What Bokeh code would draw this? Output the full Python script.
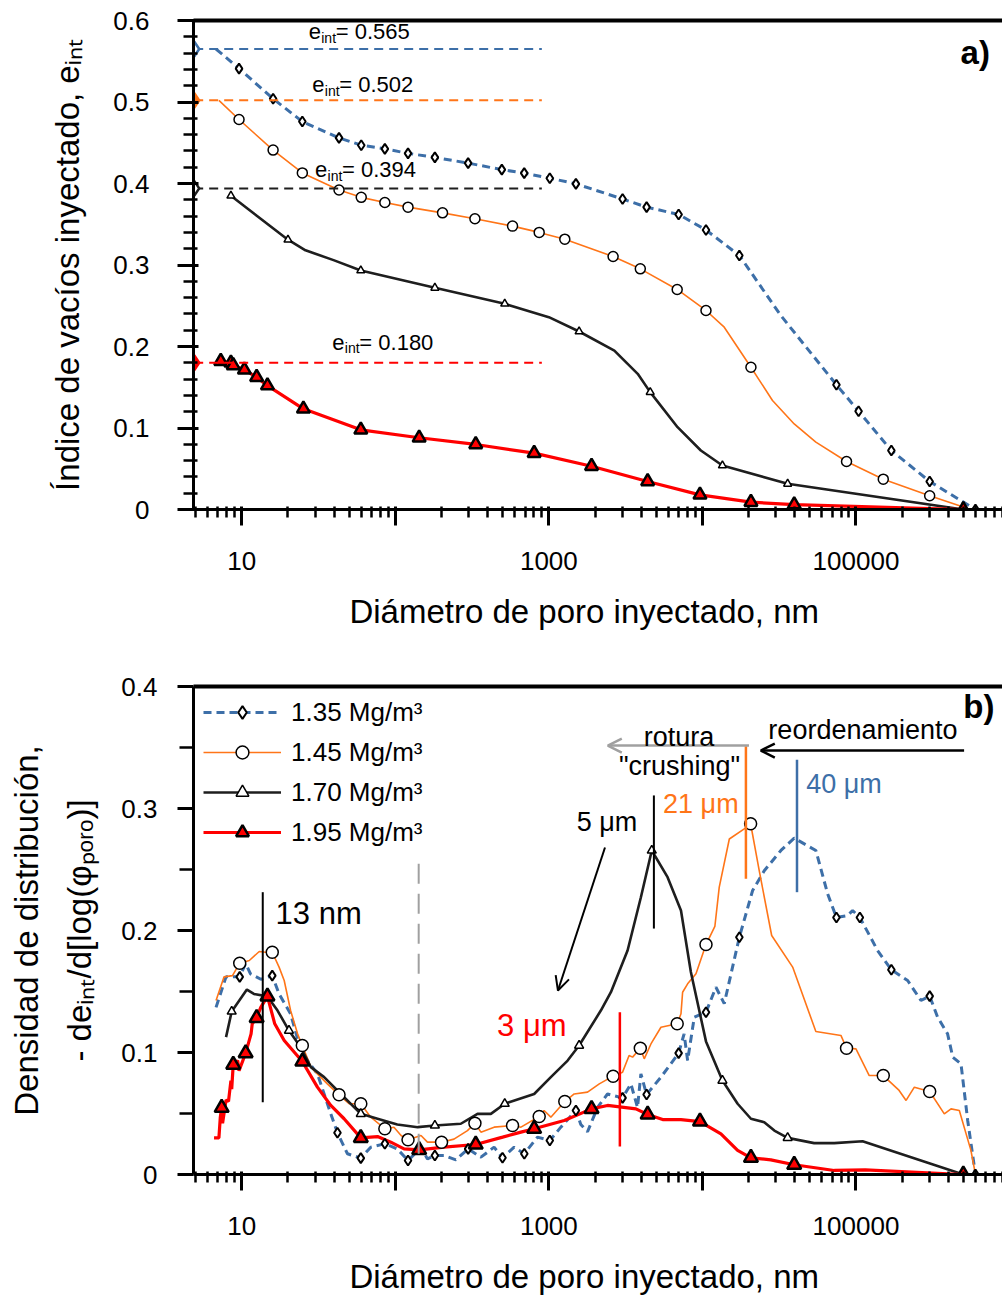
from bokeh.plotting import figure
from bokeh.layouts import column
from bokeh.models import (FixedTicker, CustomJSTickFormatter, LogAxis, Label, Arrow,
                          OpenHead, Legend, LegendItem, Range1d)
from bokeh.embed import file_html
from bokeh.resources import INLINE

FONT = "Liberation Sans"
BLUE = "#3d6fa8"
ORANGE = "#ff7518"
BLACK = "#1e1e1e"
RED = "#ff0000"
GRAY = "#a0a0a0"

# ---------------- data ----------------
series_labels = ["1.35 Mg/m³", "1.45 Mg/m³", "1.70 Mg/m³", "1.95 Mg/m³"]
e_int = [0.565, 0.502, 0.394, 0.180]
e_int_text = ["0.565", "0.502", "0.394", "0.180"]
d_min = 4.9          # smallest pore diameter shown (nm)
d_ref_end = 900      # end of the e_int reference lines (nm)

x_major = [1, 10, 100, 1000, 10000, 100000, 1000000]
x_minor = [k * 10 ** n for n in range(0, 6) for k in range(2, 10)]
x_labelled = [10, 1000, 100000]
y_top_major = [0, 0.1, 0.2, 0.3, 0.4, 0.5, 0.6]
y_top_minor = [i / 50 for i in range(0, 31)]
y_bot_major = [0, 0.1, 0.2, 0.3, 0.4]
y_bot_minor = [0.05, 0.15, 0.25, 0.35]

# (a) cumulative injected void ratio
b_top_x = [6.8, 9.6, 16, 24.8, 43, 60, 85.5, 121, 181, 298, 494, 691, 1014, 1500, 3020, 4330,
           7000, 10550, 17400, 32400, 74600, 104000, 170000, 302000, 600000]
b_top_y = [0.565, 0.541, 0.504, 0.476, 0.456, 0.447, 0.4425, 0.437, 0.432, 0.425, 0.417, 0.4127,
           0.4065, 0.3996, 0.381, 0.371, 0.362, 0.343, 0.3117, 0.238, 0.153, 0.1206, 0.0724, 0.0344, 0.0]
b_top_mx = [9.6, 16, 24.8, 43, 60, 85.5, 121, 181, 298, 494, 691, 1014, 1500, 3020, 4330,
            7000, 10550, 17400, 74600, 104000, 170000, 302000, 600000]
b_top_my = [0.541, 0.504, 0.476, 0.456, 0.447, 0.4425, 0.437, 0.432, 0.425, 0.417, 0.4127,
            0.4065, 0.3996, 0.381, 0.371, 0.362, 0.343, 0.3117, 0.153, 0.1206, 0.0724, 0.0344, 0.0]

o_top_x = [7.1, 9.6, 16, 24.8, 43, 60, 85.5, 121, 203, 330, 580, 865, 1270, 2620, 3940, 6850,
           10550, 13870, 20700, 28600, 39600, 54800, 86800, 150600, 302000, 500000]
o_top_y = [0.502, 0.4785, 0.441, 0.413, 0.392, 0.383, 0.3767, 0.371, 0.364, 0.3567, 0.3477, 0.340,
           0.3317, 0.3104, 0.2953, 0.27, 0.2442, 0.2237, 0.1746, 0.1337, 0.105, 0.0826, 0.0589,
           0.0372, 0.0168, 0.003]
o_top_mx = [9.6, 16, 24.8, 43, 60, 85.5, 121, 203, 330, 580, 865, 1270, 2620, 3940, 6850,
            10550, 20700, 86800, 150600, 302000]
o_top_my = [0.4785, 0.441, 0.413, 0.392, 0.383, 0.3767, 0.371, 0.364, 0.3567, 0.3477, 0.340,
            0.3317, 0.3104, 0.2953, 0.27, 0.2442, 0.1746, 0.0589, 0.0372, 0.0168]

k_top_x = [8.5, 20, 26, 39.6, 59.6, 181, 516, 1000, 1574, 2670, 3790, 4570, 6890, 9770, 13500,
           35900, 500000]
k_top_y = [0.385, 0.331, 0.318, 0.306, 0.2933, 0.272, 0.2524, 0.236, 0.2184, 0.195, 0.1665, 0.144,
           0.101, 0.0724, 0.054, 0.0315, 0.0]
k_top_mx = [8.5, 20, 59.6, 181, 516, 1574, 4570, 13500, 35900]
k_top_my = [0.385, 0.331, 0.2933, 0.272, 0.2524, 0.2184, 0.144, 0.054, 0.0315]

r_top_x = [7.3, 8.5, 8.8, 10.4, 12.5, 14.7, 25.2, 59.6, 143, 334, 802, 1897, 4400, 9640, 20700,
           39600, 500000]
r_top_y = [0.182, 0.180, 0.1767, 0.1714, 0.1623, 0.152, 0.1235, 0.0978, 0.088, 0.0798, 0.0691,
           0.0531, 0.0344, 0.018, 0.009, 0.006, 0.0]

# (b) pore size density
b_bot_x = [6.8, 7.9, 9.7, 10.6, 11.4, 13.3, 15.8, 17.5, 20.8, 23.6, 26.8, 31.1, 34.4, 38, 42, 48.8,
           59.6, 69.2, 85.5, 103, 121, 147, 162, 181, 208, 248, 298, 361, 440, 499, 594, 692, 843,
           1014, 1197, 1500, 1614, 1786, 2075, 2410, 3020, 3420, 3780, 3975, 4330, 5370, 7000, 7600,
           8010, 8850, 10550, 12250, 13870, 17400, 21230, 25270, 32460, 39600, 54800, 65400, 74600,
           88300, 95100, 106000, 138300, 170000, 217000, 265000, 302000, 340000, 395000, 427000,
           483000, 534000, 600000]
b_bot_y = [0.137, 0.162, 0.162, 0.173, 0.1645, 0.160, 0.163, 0.148, 0.1317, 0.107, 0.0934, 0.0825,
           0.066, 0.0497, 0.0342, 0.017, 0.0134, 0.0224, 0.0252, 0.021, 0.0115, 0.022, 0.0128,
           0.0156, 0.0156, 0.012, 0.021, 0.0142, 0.0224, 0.0137, 0.0224, 0.017, 0.0306, 0.0279,
           0.0388, 0.0525, 0.041, 0.035, 0.055, 0.066, 0.0628, 0.0743, 0.055, 0.0825, 0.0656,
           0.0798, 0.0995, 0.1153, 0.0934, 0.129, 0.133, 0.1535, 0.14, 0.1945, 0.2328, 0.249,
           0.2656, 0.2757, 0.2656, 0.23, 0.2107, 0.2123, 0.2164, 0.2107, 0.1836, 0.1678, 0.159,
           0.1426, 0.1462, 0.129, 0.1153, 0.0962, 0.0907, 0.0443, 0.0]
b_bot_mx = [9.7, 15.8, 42, 59.6, 85.5, 121, 181, 298, 499, 692, 1014, 1500, 3020, 4330, 7000,
            10550, 17400, 74600, 106000, 170000, 302000, 600000]
b_bot_my = [0.162, 0.163, 0.0342, 0.0134, 0.0252, 0.0115, 0.0156, 0.021, 0.0137, 0.017, 0.0279,
            0.0525, 0.0628, 0.0656, 0.0995, 0.133, 0.1945, 0.2107, 0.2107, 0.1678, 0.1462, 0.0]

o_bot_x = [6.8, 7.67, 8.7, 9.7, 11.2, 13.0, 14.3, 15.8, 17.5, 18.9, 20.8, 23.1, 24.8, 28.2, 31.1,
           36.1, 43, 50, 59.6, 69.2, 85.5, 98, 109, 121, 147, 162, 200, 241, 295, 330, 361, 440,
           580, 658, 865, 931, 1030, 1270, 1462, 1786, 2130, 2620, 3020, 3330, 3510, 3940, 4180,
           4620, 5370, 6850, 7250, 7430, 8010, 9080, 10550, 12050, 12870, 14970, 18720, 20600,
           23440, 28250, 38700, 54800, 79800, 86800, 100000, 122000, 150600, 191000, 212000,
           240000, 302000, 376000, 416000, 471000, 560000, 600000]
o_bot_y = [0.1426, 0.162, 0.163, 0.1732, 0.1754, 0.1828, 0.1822, 0.1822, 0.17, 0.159, 0.1344,
           0.1153, 0.1057, 0.088, 0.0825, 0.0743, 0.0653, 0.058, 0.058, 0.047, 0.0375, 0.0388,
           0.032, 0.0284, 0.032, 0.0265, 0.0265, 0.029, 0.036, 0.042, 0.0347, 0.0388, 0.0402,
           0.0388, 0.0475, 0.0525, 0.047, 0.0598, 0.066, 0.0675, 0.0743, 0.0806, 0.0839, 0.0975,
           0.0962, 0.1035, 0.0948, 0.107, 0.1207, 0.1235, 0.1317, 0.1494, 0.1563, 0.1645, 0.1885,
           0.2033, 0.2355, 0.275, 0.2833, 0.2875, 0.249, 0.1959, 0.17, 0.1172, 0.114, 0.1035,
           0.103, 0.0811, 0.0811, 0.0689, 0.0607, 0.0716, 0.068, 0.0497, 0.0538, 0.0525, 0.02, 0.0]
o_bot_mx = [9.7, 15.8, 24.8, 43, 59.6, 85.5, 121, 200, 330, 580, 865, 1270, 2620, 3940, 6850,
            10550, 20600, 86800, 150600, 302000]
o_bot_my = [0.1732, 0.1822, 0.1057, 0.0653, 0.058, 0.0375, 0.0284, 0.0265, 0.042, 0.0402, 0.0475,
            0.0598, 0.0806, 0.1035, 0.1235, 0.1885, 0.2875, 0.1035, 0.0811, 0.068]

k_bot_x = [7.9, 8.6, 10.8, 12.0, 14.7, 17.1, 20.3, 24.2, 28.2, 34.4, 44.2, 59.6, 76.6, 103, 140,
           181, 267, 343, 419, 516, 802, 1030, 1325, 1574, 2180, 2535, 3255, 3975, 4680, 5930,
           7250, 8410, 10550, 13500, 16950, 20700, 25270, 29400, 35900, 53400, 72200, 110400, 500000]
k_bot_y = [0.1126, 0.1336, 0.1516, 0.148, 0.146, 0.1344, 0.118, 0.1043, 0.088, 0.0798, 0.066,
           0.0497, 0.0457, 0.041, 0.0388, 0.0402, 0.0416, 0.0497, 0.0497, 0.058, 0.066, 0.0798,
           0.0934, 0.1057, 0.1344, 0.1494, 0.1836, 0.2273, 0.2656, 0.2437, 0.2164, 0.166, 0.1091,
           0.077, 0.058, 0.0457, 0.0429, 0.036, 0.030, 0.0257, 0.0257, 0.0273, 0.0]
k_bot_mx = [8.6, 20.3, 59.6, 181, 516, 1574, 4680, 13500, 35900, 500000]
k_bot_my = [0.1336, 0.118, 0.0497, 0.0402, 0.058, 0.1057, 0.2656, 0.077, 0.030, 0.0]

r_bot_x = [6.6, 7.1, 7.25, 7.4, 7.5, 7.9, 8.2, 8.5, 8.6, 8.8, 9.4, 9.6, 10.6, 11.5, 11.7, 12.5,
           13.3, 14.7, 16.4, 18.9, 24.8, 31.1, 38, 46.4, 59.6, 76.6, 93.5, 114, 143, 208, 334, 500,
           658, 802, 1259, 1897, 2410, 3690, 4400, 5510, 7250, 9640, 13200, 16950, 20700, 27900,
           39600, 72200, 115000, 500000]
r_bot_y = [0.030, 0.030, 0.047, 0.055, 0.042, 0.061, 0.060, 0.077, 0.070, 0.090, 0.0934, 0.085,
           0.0995, 0.1153, 0.1235, 0.1284, 0.137, 0.146, 0.1235, 0.1098, 0.0926, 0.0716, 0.0566,
           0.0457, 0.030, 0.0311, 0.0265, 0.021, 0.0202, 0.0224, 0.0246, 0.0306, 0.0347, 0.0375,
           0.0443, 0.0538, 0.0566, 0.0538, 0.0492, 0.045, 0.045, 0.0434, 0.0333, 0.0197, 0.0137,
           0.012, 0.008, 0.0033, 0.0038, 0.0]
r_bot_mx = [7.4, 8.8, 10.6, 12.5, 14.7, 24.8, 59.6, 143, 334, 802, 1897, 4400, 9640, 20700,
            39600, 500000]
r_bot_my = [0.0547, 0.09, 0.0995, 0.1284, 0.146, 0.0926, 0.030, 0.0202, 0.0246, 0.0375, 0.0538,
            0.0492, 0.0434, 0.0137, 0.008, 0.0]

X_START, X_END = 4.85, 9.0e5
NB = "\u00a0"


def base_fig(height, top, bottom, y_end, y_major, y_minor, maj_in, min_in, min_out, y_title,
             lab_standoff, title_standoff):
    p = figure(width=1002, height=height, x_axis_type="log",
               x_range=Range1d(X_START, X_END), y_range=Range1d(0, y_end),
               output_backend="svg", toolbar_location=None,
               min_border_left=193, min_border_right=0, min_border_top=top,
               min_border_bottom=bottom)
    p.outline_line_color = None
    p.grid.visible = False
    xa = p.xaxis[0]
    xa.ticker = FixedTicker(ticks=x_major, minor_ticks=x_minor)
    xa.formatter = CustomJSTickFormatter(
        args=dict(lab=x_labelled),
        code="return lab.indexOf(tick) >= 0 ? String(tick) : '';")
    xa.axis_label = "Diámetro de poro inyectado, nm" + NB * 3
    ya = p.yaxis[0]
    ya.ticker = FixedTicker(ticks=y_major, minor_ticks=y_minor)
    ya.formatter = CustomJSTickFormatter(code="return tick == 0 ? '0' : tick.toFixed(1);")
    ya.axis_label = y_title
    for ax in (xa, ya):
        ax.axis_line_width = 3
        ax.axis_line_color = "black"
        ax.major_tick_line_width = 3
        ax.minor_tick_line_width = 2.5
        ax.major_tick_line_color = "black"
        ax.minor_tick_line_color = "black"
        ax.major_tick_out = 16
        ax.major_label_text_font = FONT
        ax.major_label_text_font_size = "26px"
        ax.major_label_text_color = "black"
        ax.axis_label_text_font = FONT
        ax.axis_label_text_font_size = "33px"
        ax.axis_label_text_font_style = "normal"
        ax.axis_label_text_color = "black"
    xa.major_tick_in = 3
    xa.minor_tick_in = 3
    xa.minor_tick_out = 8
    xa.major_label_standoff = 26
    xa.axis_label_standoff = 20
    ya.major_tick_in = maj_in
    ya.minor_tick_in = min_in
    ya.minor_tick_out = min_out
    ya.major_label_standoff = lab_standoff
    ya.axis_label_standoff = title_standoff
    ya.axis_label_text_line_height = 1.45
    top_ax = LogAxis(ticker=FixedTicker(ticks=[], minor_ticks=[]), axis_line_width=4,
                     axis_line_color="black", major_label_text_font_size="0px",
                     major_tick_line_color=None, minor_tick_line_color=None)
    p.add_layout(top_ax, "above")
    return p


def label(p, x, y, text, size, color="black", align="center", baseline="middle",
          style="normal", xo=0, yo=0):
    p.add_layout(Label(x=x, y=y, text=text, text_font=FONT, text_font_size=f"{size}px",
                       text_color=color, text_align=align, text_baseline=baseline,
                       text_font_style=style, x_offset=xo, y_offset=yo))


# ---------------- panel a ----------------
pa = base_fig(650, 20, 141, 0.6, y_top_major, y_top_minor, 5, 4, 10,
              "Índice de vacíos inyectado, eᵢₙₜ", 28, 24)

pa.line(b_top_x, b_top_y, line_color=BLUE, line_width=3, line_dash="8 5")
pa.line(o_top_x, o_top_y, line_color=ORANGE, line_width=1.6)
pa.line(k_top_x, k_top_y, line_color=BLACK, line_width=2.6)
pa.line(r_top_x, r_top_y, line_color=RED, line_width=3.2)

pa.scatter(b_top_mx, b_top_my, marker="diamond", size=10, fill_color="white",
           line_color="black", line_width=2)
pa.scatter(o_top_mx, o_top_my, marker="circle", size=10, fill_color="white",
           line_color="black", line_width=1.5)
pa.scatter(k_top_mx, k_top_my, marker="triangle", size=8, fill_color="white",
           line_color="black", line_width=1.5)
pa.scatter(r_top_x, r_top_y, marker="triangle", size=13, fill_color=RED,
           line_color="black", line_width=2.5)

ref_colors = [BLUE, ORANGE, BLACK, RED]
ref_fill = ["white", ORANGE, "white", RED]
for e, c in zip(e_int, ref_colors):
    pa.line([d_min, d_ref_end], [e, e], line_color=c, line_width=2, line_dash="9 6")
pa.scatter([d_min] * 4, e_int, marker="diamond", size=15, fill_color=ref_fill,
           line_color=ref_colors, line_width=2.5)

# e_int labels (x start, baseline)
lab_x = [27.3, 28.8, 30.0, 38.9]
lab_y = [0.586, 0.521, 0.417, 0.205]
for lx, ly, t in zip(lab_x, lab_y, e_int_text):
    label(pa, lx, ly, "e", 22, align="left", baseline="alphabetic")
    label(pa, lx, ly, "int", 14, align="left", baseline="alphabetic", xo=12.5, yo=-6)
    label(pa, lx, ly, "= " + t, 22, align="left", baseline="alphabetic", xo=27)

label(pa, 4.8e5, 0.561, "a)", 33, align="left", style="bold")

# ---------------- panel b ----------------
pb = base_fig(650, 36, 126, 0.4, y_bot_major, y_bot_minor, 0, 0, 14,
              "Densidad de distribución,\n- deᵢₙₜ/d[log(φₚₒᵣₒ)]", 20, 20)

lb = pb.line(b_bot_x, b_bot_y, line_color=BLUE, line_width=3, line_dash="8 5")
lo = pb.line(o_bot_x, o_bot_y, line_color=ORANGE, line_width=1.6)
lk = pb.line(k_bot_x, k_bot_y, line_color=BLACK, line_width=2.6)
lr = pb.line(r_bot_x, r_bot_y, line_color=RED, line_width=3.2)

mb = pb.scatter(b_bot_mx, b_bot_my, marker="diamond", size=10, fill_color="white",
                line_color="black", line_width=2)
mo = pb.scatter(o_bot_mx, o_bot_my, marker="circle", size=12, fill_color="white",
                line_color="black", line_width=1.5)
mk = pb.scatter(k_bot_mx, k_bot_my, marker="triangle", size=9, fill_color="white",
                line_color="black", line_width=1.5)
mr = pb.scatter(r_bot_mx, r_bot_my, marker="triangle", size=14, fill_color=RED,
                line_color="black", line_width=2.5)

# annotation lines
pb.segment(x0=[13.7], y0=[0.0593], x1=[13.7], y1=[0.2314], line_color="black", line_width=2)
pb.segment(x0=[142], y0=[0.017], x1=[142], y1=[0.257], line_color=GRAY, line_width=2,
           line_dash="20 10")
pb.segment(x0=[4830], y0=[0.2016], x1=[4830], y1=[0.3107], line_color="black", line_width=2)
pb.segment(x0=[19200], y0=[0.2424], x1=[19200], y1=[0.351], line_color=ORANGE, line_width=2.5)
pb.segment(x0=[41300], y0=[0.2314], x1=[41300], y1=[0.340], line_color=BLUE, line_width=2.5)
pb.segment(x0=[2900], y0=[0.023], x1=[2900], y1=[0.133], line_color=RED, line_width=2.5)

pb.add_layout(Arrow(x_start=20100, y_start=0.3516, x_end=2420, y_end=0.3516,
                    line_color=GRAY, line_width=2.5,
                    end=OpenHead(size=14, line_color=GRAY, line_width=2.5)))
pb.add_layout(Arrow(x_start=506000, y_start=0.3475, x_end=24000, y_end=0.3475,
                    line_color="black", line_width=2.5,
                    end=OpenHead(size=14, line_color="black", line_width=2.5)))
pb.add_layout(Arrow(x_start=2320, y_start=0.268, x_end=1146, y_end=0.1508,
                    line_color="black", line_width=2,
                    end=OpenHead(size=14, line_color="black", line_width=2)))

label(pb, 16.6, 0.214, "13 nm", 31, align="left")
label(pb, 7030, 0.359, "rotura", 27)
label(pb, 7100, 0.335, "\"crushing\"", 27)
label(pb, 111000, 0.364, "reordenamiento", 27)
label(pb, 2390, 0.289, "5 μm", 27)
label(pb, 9770, 0.304, "21 μm", 27, color=ORANGE)
label(pb, 83600, 0.3197, "40 μm", 27, color=BLUE)
label(pb, 775, 0.122, "3 μm", 31, color=RED)
label(pb, 5.0e5, 0.384, "b)", 33, align="left", style="bold")

legend = Legend(items=[
    LegendItem(label=series_labels[0], renderers=[lb, mb]),
    LegendItem(label=series_labels[1], renderers=[lo, mo]),
    LegendItem(label=series_labels[2], renderers=[lk, mk]),
    LegendItem(label=series_labels[3], renderers=[lr, mr]),
], location="top_left")
legend.margin = 10
legend.padding = 0
legend.spacing = 8
legend.glyph_width = 78
legend.glyph_height = 32
legend.label_height = 32
legend.label_standoff = 10
legend.label_text_font = FONT
legend.label_text_font_size = "26px"
legend.label_text_color = "black"
legend.border_line_color = None
legend.background_fill_alpha = 0
pb.add_layout(legend)

layout = column(pa, pb, spacing=0)
open("out.html", "w").write(file_html(layout, INLINE))
